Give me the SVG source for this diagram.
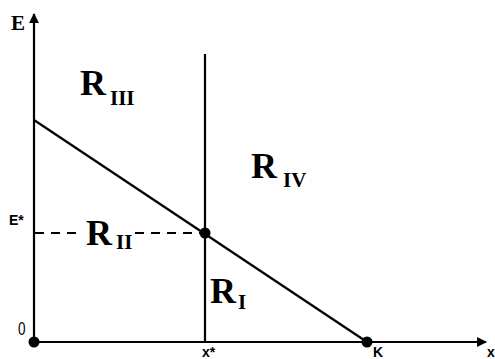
<svg xmlns="http://www.w3.org/2000/svg" width="495" height="359" viewBox="0 0 495 359">
<style>
.ln{stroke:#000;stroke-width:2.2;fill:none}
.dash{stroke:#000;stroke-width:2.2;stroke-dasharray:9,7;fill:none}
.big{font-family:"Liberation Serif",serif;font-weight:bold;font-size:36px;fill:#000}
.sub{font-family:"Liberation Serif",serif;font-weight:bold;font-size:21px;fill:#000}
.ax{font-family:"Liberation Sans",sans-serif;font-weight:bold;font-size:14px;fill:#000}
.axs{font-family:"Liberation Serif",serif;font-weight:bold;font-size:21px;fill:#000}
.zero{font-family:"Liberation Sans",sans-serif;font-size:18px;fill:#000}
.dot{fill:#000}
</style>
<defs>
<marker id="arr" viewBox="0 0 10 10" refX="9" refY="5" markerWidth="4.5" markerHeight="4.5" orient="auto" markerUnits="strokeWidth">
<path d="M0,0 L10,5 L0,10 z" fill="#000"/>
</marker>
</defs>
<rect width="495" height="359" fill="#fff"/>
<g id="connectors">
<line class="ln" x1="34" y1="342" x2="34" y2="14" marker-end="url(#arr)"/>
<line class="ln" x1="34" y1="342" x2="486" y2="342" marker-end="url(#arr)"/>
<line class="ln" x1="34" y1="120" x2="367" y2="342"/>
<line class="ln" x1="205" y1="54" x2="205" y2="342"/>
<line class="dash" x1="35" y1="233" x2="82" y2="233"/>
<line class="dash" x1="135" y1="233" x2="205" y2="233"/>
</g>
<g id="origin"><circle class="dot" cx="34" cy="342" r="5.5"/><text class="zero" x="18" y="335" transform="translate(18 335) scale(0.75 1) translate(-18 -335)">0</text></g>
<g id="eq"><circle class="dot" cx="205" cy="233" r="5.5"/></g>
<g id="k"><circle class="dot" cx="367" cy="342" r="5.5"/><text class="ax" x="373" y="357">K</text></g>
<g id="labels">
<text class="axs" x="11" y="30">E</text>
<text class="ax" x="9" y="225">E*</text>
<text class="ax" x="202" y="357">x*</text>
<text class="ax" x="487" y="357">x</text>
</g>
<g id="R3"><text class="big" x="80" y="95">R</text><text class="sub" x="110" y="105">III</text></g>
<g id="R4"><text class="big" x="251" y="178">R</text><text class="sub" x="283" y="187">IV</text></g>
<g id="R2"><text class="big" x="86" y="245">R</text><text class="sub" x="116" y="249">II</text></g>
<g id="R1"><text class="big" x="210" y="303">R</text><text class="sub" x="238" y="309">I</text></g>
</svg>
